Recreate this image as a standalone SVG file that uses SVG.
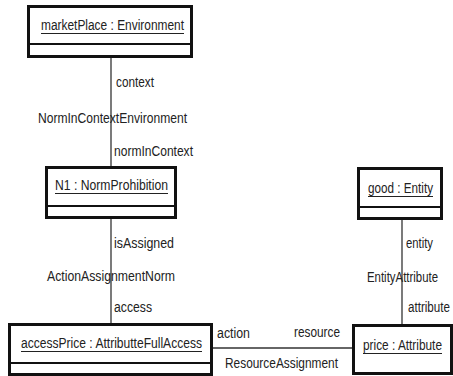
<svg xmlns="http://www.w3.org/2000/svg" width="453" height="376" viewBox="0 0 453 376">
<style>
.box{fill:#fff;stroke:#111;stroke-width:3}
.div{stroke:#111;stroke-width:2}
.ul{stroke:#222;stroke-width:1.2}
.con{stroke:#333;stroke-width:1.3;fill:none}
text{font-family:"Liberation Sans",Arial,sans-serif;font-size:15.5px;fill:#222}
</style>
<rect width="453" height="376" fill="#fff"/>
<g id="connectors">
<line class="con" x1="111" y1="57" x2="111" y2="166"/>
<line class="con" x1="111" y1="218" x2="111" y2="323"/>
<line class="con" x1="402" y1="219" x2="402" y2="324"/>
<line class="con" x1="212" y1="348" x2="352" y2="348"/>
<text x="116" y="87" textLength="38" lengthAdjust="spacingAndGlyphs">context</text>
<text x="38" y="123" textLength="149" lengthAdjust="spacingAndGlyphs">NormInContextEnvironment</text>
<text x="114" y="156" textLength="79" lengthAdjust="spacingAndGlyphs">normInContext</text>
<text x="114" y="248" textLength="60" lengthAdjust="spacingAndGlyphs">isAssigned</text>
<text x="47" y="281" textLength="128" lengthAdjust="spacingAndGlyphs">ActionAssignmentNorm</text>
<text x="114" y="312" textLength="38" lengthAdjust="spacingAndGlyphs">access</text>
<text x="406" y="248" textLength="27" lengthAdjust="spacingAndGlyphs">entity</text>
<text x="367" y="282" textLength="71" lengthAdjust="spacingAndGlyphs">EntityAttribute</text>
<text x="408" y="312" textLength="42" lengthAdjust="spacingAndGlyphs">attribute</text>
<text x="217" y="338" textLength="33" lengthAdjust="spacingAndGlyphs">action</text>
<text x="294" y="337" textLength="46" lengthAdjust="spacingAndGlyphs">resource</text>
<text x="225" y="368" textLength="113" lengthAdjust="spacingAndGlyphs">ResourceAssignment</text>
</g>
<g id="marketPlace">
<rect class="box" x="28.5" y="6.5" width="163" height="50"/>
<line class="div" x1="28" y1="44" x2="192" y2="44"/>
<text x="41" y="30" textLength="143" lengthAdjust="spacingAndGlyphs">marketPlace : Environment</text>
<line class="ul" x1="41" y1="33.5" x2="184" y2="33.5"/>
</g>
<g id="N1">
<rect class="box" x="46.5" y="167.5" width="129" height="50"/>
<line class="div" x1="46" y1="206" x2="176" y2="206"/>
<text x="55" y="190" textLength="113" lengthAdjust="spacingAndGlyphs">N1 : NormProhibition</text>
<line class="ul" x1="55" y1="193.5" x2="168" y2="193.5"/>
</g>
<g id="good">
<rect class="box" x="358.5" y="168.5" width="83" height="50"/>
<line class="div" x1="358" y1="207" x2="442" y2="207"/>
<text x="368" y="193" textLength="65" lengthAdjust="spacingAndGlyphs">good : Entity</text>
<line class="ul" x1="368" y1="196.5" x2="433" y2="196.5"/>
</g>
<g id="accessPrice">
<rect class="box" x="9.5" y="324.5" width="202" height="50"/>
<line class="div" x1="9" y1="363" x2="211" y2="363"/>
<text x="21" y="348" textLength="181" lengthAdjust="spacingAndGlyphs">accessPrice : AttributteFullAccess</text>
<line class="ul" x1="21" y1="351.5" x2="202" y2="351.5"/>
</g>
<g id="price">
<rect class="box" x="353.5" y="325.5" width="98" height="48"/>
<text x="363" y="350" textLength="79" lengthAdjust="spacingAndGlyphs">price : Attribute</text>
<line class="ul" x1="363" y1="353.5" x2="442" y2="353.5"/>
</g>
</svg>
